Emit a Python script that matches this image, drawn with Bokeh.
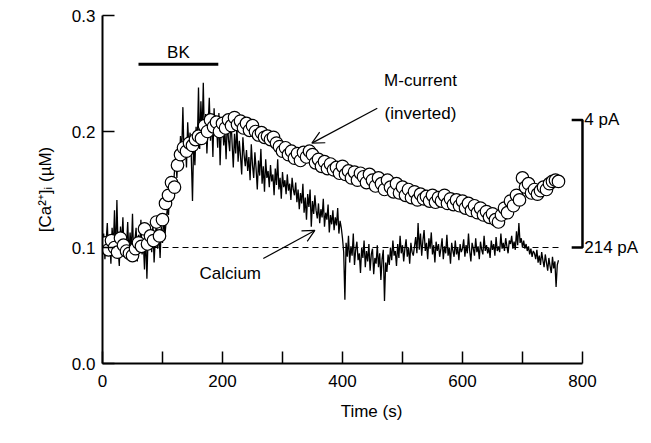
import numpy as np
from bokeh.plotting import figure
from bokeh.models import Range1d, FixedTicker, Arrow, OpenHead, Label, PrintfTickFormatter
from bokeh.embed import file_html
from bokeh.resources import INLINE

# ---------------- data ----------------
# M-current (inverted), plotted on the [Ca2+]i scale, sampled every 5 s from 5 s
mcur_t0, mcur_dt = 5, 5
mcurrent = [
    0.104, 0.098, 0.106, 0.100, 0.096, 0.108, 0.102, 0.097, 0.095, 0.093,
    0.099, 0.104, 0.101, 0.116, 0.103, 0.110, 0.106, 0.122, 0.110, 0.124,
    0.138, 0.145, 0.156, 0.152, 0.171, 0.180, 0.186, 0.183, 0.190, 0.188,
    0.193, 0.196, 0.194, 0.205, 0.200, 0.210, 0.204, 0.208, 0.200, 0.207,
    0.203, 0.210, 0.205, 0.212, 0.206, 0.209, 0.203, 0.207, 0.201, 0.205,
    0.200, 0.197, 0.199, 0.195, 0.196, 0.193, 0.195, 0.190, 0.187, 0.183,
    0.186, 0.180, 0.183, 0.177, 0.181, 0.175, 0.182, 0.178, 0.183, 0.180,
    0.173, 0.176, 0.170, 0.174, 0.168, 0.172, 0.167, 0.169, 0.164, 0.170,
    0.163, 0.166, 0.160, 0.165, 0.158, 0.164, 0.161, 0.156, 0.163, 0.158,
    0.153, 0.160, 0.155, 0.150, 0.158, 0.152, 0.148, 0.155, 0.147, 0.152,
    0.145, 0.150, 0.143, 0.148, 0.141, 0.146, 0.142, 0.144, 0.140, 0.145,
    0.139, 0.143, 0.140, 0.145, 0.138, 0.142, 0.137, 0.141, 0.136, 0.140,
    0.134, 0.138, 0.132, 0.136, 0.130, 0.134, 0.128, 0.131, 0.126, 0.129,
    0.124, 0.122, 0.128, 0.134, 0.130, 0.140, 0.136, 0.145, 0.141, 0.160,
    0.152, 0.155, 0.147, 0.150, 0.146, 0.149, 0.152, 0.150, 0.155, 0.157,
    0.158, 0.157,
]

# Calcium trace, sampled every 2 s from 0 s
ca_t0, ca_dt = 0, 2
calcium = [
    0.098, 0.112, 0.090, 0.105, 0.121, 0.094, 0.108, 0.086, 0.117, 0.100, 0.132, 0.092, 0.141, 0.099, 0.084, 0.118, 0.103, 0.126, 0.095, 0.110,
    0.101, 0.122, 0.093, 0.113, 0.097, 0.129, 0.090, 0.106, 0.117, 0.088, 0.111, 0.099, 0.124, 0.094, 0.105, 0.081, 0.112, 0.073, 0.109, 0.098,
    0.115, 0.096, 0.120, 0.087, 0.108, 0.125, 0.099, 0.113, 0.091, 0.118, 0.104, 0.128, 0.110, 0.122, 0.134, 0.128, 0.147, 0.139, 0.158, 0.151,
    0.166, 0.178, 0.160, 0.185, 0.172, 0.196, 0.182, 0.221, 0.176, 0.190, 0.169, 0.208, 0.186, 0.199, 0.178, 0.140, 0.193, 0.171, 0.204, 0.188,
    0.238, 0.185, 0.226, 0.197, 0.242, 0.190, 0.215, 0.181, 0.205, 0.229, 0.192, 0.212, 0.178, 0.220, 0.196, 0.207, 0.186, 0.216, 0.171, 0.203,
    0.210, 0.188, 0.201, 0.176, 0.209, 0.193, 0.183, 0.213, 0.190, 0.169, 0.198, 0.181, 0.205, 0.174, 0.192, 0.179, 0.163, 0.195, 0.180, 0.170,
    0.184, 0.166, 0.178, 0.158, 0.189, 0.171, 0.160, 0.182, 0.168, 0.150, 0.175, 0.162, 0.185, 0.155, 0.170, 0.148, 0.176, 0.160, 0.166, 0.152,
    0.171, 0.157, 0.163, 0.145, 0.168, 0.154, 0.176, 0.150, 0.160, 0.142, 0.165, 0.152, 0.158, 0.146, 0.163, 0.149, 0.155, 0.141, 0.160, 0.150,
    0.145, 0.156, 0.139, 0.150, 0.133, 0.147, 0.138, 0.155, 0.130, 0.143, 0.124, 0.146, 0.135, 0.150, 0.118, 0.140, 0.129, 0.145, 0.132, 0.125,
    0.138, 0.121, 0.133, 0.126, 0.142, 0.118, 0.130, 0.124, 0.137, 0.113, 0.128, 0.120, 0.132, 0.115, 0.126, 0.119, 0.134, 0.112, 0.123, 0.117,
    0.108, 0.096, 0.055, 0.104, 0.092, 0.110, 0.087, 0.101, 0.093, 0.112, 0.085, 0.098, 0.105, 0.089, 0.095, 0.078, 0.100, 0.091, 0.106, 0.083,
    0.097, 0.088, 0.103, 0.080, 0.094, 0.099, 0.077, 0.091, 0.086, 0.102, 0.083, 0.095, 0.072, 0.090, 0.098, 0.054, 0.087, 0.079, 0.094, 0.085,
    0.100, 0.089, 0.106, 0.093, 0.097, 0.084, 0.103, 0.091, 0.110, 0.095, 0.102, 0.088, 0.099, 0.107, 0.092, 0.100, 0.086, 0.104, 0.096, 0.093,
    0.101, 0.109, 0.095, 0.121, 0.098, 0.112, 0.093, 0.106, 0.115, 0.097, 0.104, 0.090, 0.108, 0.099, 0.113, 0.094, 0.102, 0.087, 0.105, 0.097,
    0.103, 0.092, 0.099, 0.108, 0.090, 0.101, 0.095, 0.111, 0.093, 0.100, 0.086, 0.104, 0.097, 0.092, 0.106, 0.094, 0.100, 0.089, 0.103, 0.096,
    0.099, 0.107, 0.092, 0.102, 0.095, 0.112, 0.097, 0.088, 0.104, 0.099, 0.093, 0.108, 0.096, 0.101, 0.090, 0.105, 0.098, 0.094, 0.110, 0.097,
    0.102, 0.095, 0.100, 0.091, 0.106, 0.098, 0.103, 0.093, 0.109, 0.097, 0.101, 0.096, 0.112, 0.099, 0.104, 0.097, 0.108, 0.101, 0.095, 0.106,
    0.103, 0.110, 0.099, 0.105, 0.098, 0.114, 0.102, 0.121, 0.104, 0.108, 0.100, 0.106, 0.099, 0.103, 0.097, 0.101, 0.094, 0.099, 0.092, 0.097,
    0.095, 0.090, 0.098, 0.087, 0.093, 0.085, 0.096, 0.089, 0.083, 0.094, 0.087, 0.080, 0.091, 0.084, 0.078, 0.092, 0.082, 0.088, 0.066, 0.085,
    0.089,
]

baseline = 0.1
bk_start, bk_end = 60, 193
x_ticks = [0, 100, 200, 300, 400, 500, 600, 700, 800]
x_labels = {0: "0", 100: "", 200: "200", 300: "", 400: "400", 500: "", 600: "600", 700: "", 800: "800"}
y_ticks = [0.0, 0.1, 0.2, 0.3]
scale_top, scale_bottom = 0.21, 0.1
scale_labels = ["4 pA", "214 pA"]

mcur_t = mcur_t0 + mcur_dt * np.arange(len(mcurrent))
ca_t = ca_t0 + ca_dt * np.arange(len(calcium))

FONT = "Liberation Sans"
FS = "17px"

p = figure(width=640, height=433, x_range=Range1d(0, 896.7), y_range=Range1d(0, 0.3),
           output_backend="svg", toolbar_location=None,
           min_border_left=102, min_border_right=0, min_border_top=15, min_border_bottom=70)
p.outline_line_color = None
p.xgrid.visible = False
p.ygrid.visible = False

for ax in (p.xaxis[0], p.yaxis[0]):
    ax.axis_line_width = 2
    ax.axis_line_color = "black"
    ax.major_tick_line_width = 1.5
    ax.major_tick_line_color = "black"
    ax.major_tick_in = 12
    ax.major_tick_out = 0
    ax.minor_tick_line_color = None
    ax.major_label_text_font = FONT
    ax.major_label_text_font_size = FS
    ax.major_label_text_color = "black"
    ax.axis_label_text_font = FONT
    ax.axis_label_text_font_size = FS
    ax.axis_label_text_font_style = "normal"
    ax.axis_label_text_color = "black"

p.xaxis.ticker = FixedTicker(ticks=x_ticks)
p.xaxis.major_label_overrides = x_labels
p.xaxis.bounds = (0, 800)
p.xaxis.axis_label = "Time (s)"
p.xaxis.major_label_standoff = 11
p.xaxis.axis_label_standoff = 12

p.yaxis.ticker = FixedTicker(ticks=y_ticks)
p.yaxis.formatter = PrintfTickFormatter(format="%.1f")
p.yaxis.bounds = (0, 0.3)
p.yaxis.axis_label = "[Ca²⁺]ᵢ (µM)"
p.yaxis.major_label_standoff = 7
p.yaxis.axis_label_standoff = 14

# dashed baseline
p.line([0, 762], [baseline, baseline], line_color="black", line_width=1, line_dash="6 4")

# calcium trace
p.line(ca_t, calcium, line_color="black", line_width=1.3)

# M-current circles
p.scatter(mcur_t, mcurrent, marker="circle", size=12.5, fill_color="white",
          line_color="black", line_width=1.2)


def label(x, y, text, align="center"):
    p.add_layout(Label(x=x, y=y, text=text, text_align=align, text_baseline="middle",
                       text_font=FONT, text_font_size=FS, text_color="black"))


# BK bar
p.line([bk_start, bk_end], [0.258, 0.258], line_color="black", line_width=3)
label((bk_start + bk_end) / 2, 0.268, "BK")

# labels and arrows
label(530, 0.244, "M-current")
label(530, 0.2155, "(inverted)")
p.add_layout(Arrow(x_start=458, y_start=0.22, x_end=349, y_end=0.19, line_width=1.2,
                   line_color="black", end=OpenHead(size=12, line_width=1.2, line_color="black")))
label(213, 0.0776, "Calcium")
p.add_layout(Arrow(x_start=268, y_start=0.0905, x_end=354, y_end=0.1147, line_width=1.2,
                   line_color="black", end=OpenHead(size=12, line_width=1.2, line_color="black")))

# scale bracket
p.line([782, 800, 800, 782], [scale_top, scale_top, scale_bottom, scale_bottom],
       line_color="black", line_width=2.5)
label(803, scale_top, scale_labels[0], "left")
label(803, scale_bottom, scale_labels[1], "left")

open("out.html", "w").write(file_html(p, INLINE))
